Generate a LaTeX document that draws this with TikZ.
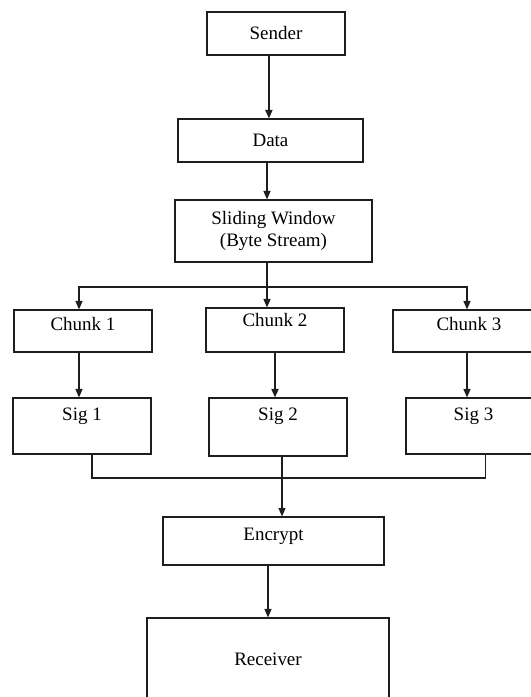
\documentclass[tikz,border=0pt]{standalone}
\usepackage{fontspec}
\setmainfont{Liberation Serif}
\usepackage{tikz}
\usetikzlibrary{arrows.meta,positioning,calc}
\definecolor{linecolor}{RGB}{30,30,30}

\begin{document}
\begin{tikzpicture}[x=0.025cm,y=-0.025cm,
  blk/.style={draw=linecolor,line width=0.8pt,fill=white,inner sep=0pt,
              font=\fontsize{13.5}{16}\selectfont,align=center},
  sigblk/.style={blk,text height=0.55cm,text depth=0.85cm,inner ysep=0pt},
  arr/.style={-{Triangle[length=6pt,width=5pt]},line width=0.8pt,linecolor},
  link/.style={line width=0.8pt,linecolor}
]
\useasboundingbox (0,0) rectangle (531,697);
\node[blk,minimum width=3.45cm,minimum height=1.075cm] (sender) at (276,33.5) {Sender};
\node[blk,minimum width=4.625cm,minimum height=1.075cm] (data) at (270.5,140.5) {Data};
\node[blk,minimum width=4.925cm,minimum height=1.55cm] (slide) at (273.5,231)
  {Sliding Window\\(Byte Stream)};
\node[blk,minimum width=3.45cm,text height=0.5cm,text depth=0.55cm] (chunk1) at (83,331) {Chunk 1};
\node[blk,minimum width=3.45cm,text height=0.47cm,text depth=0.63cm] (chunk2) at (275,330) {Chunk 2};
\node[blk,minimum width=3.8cm,text height=0.5cm,text depth=0.55cm] (chunk3) at (469,331) {Chunk 3};
\node[sigblk,minimum width=3.45cm] (sig1) at (82,426) {Sig 1};
\node[sigblk,minimum width=3.45cm,text depth=0.9cm] (sig2) at (278,427) {Sig 2};
\node[sigblk,minimum width=3.375cm] (sig3) at (473.5,426) {Sig 3};
\node[blk,minimum width=5.525cm,text height=0.575cm,text depth=0.625cm] (encrypt) at (273.5,541) {Encrypt};
\node[blk,minimum width=6.05cm,text height=1.175cm,text depth=1.925cm] (receiver) at (268,680) {Receiver};
\coordinate (split) at (267,287);
\coordinate (join) at (282,478);
\draw[arr,line width=1.2pt] ([xshift=-0.04cm]data.north |- sender.south) -- ([xshift=-0.04cm]data.north);
\draw[arr] (data.south -| split) -- (slide.north -| split);
\draw[link] (slide.south -| split) -- (split);
\draw[arr] (split) -| ([xshift=-0.1cm]chunk1.north);
\draw[arr] (split) -| ([xshift=-0.05cm]chunk3.north);
\draw[arr] (split) -- (split |- chunk2.north);
\draw[arr] ([xshift=-0.1cm]chunk1.south) -- ([xshift=-0.1cm]chunk1.south |- sig1.north);
\draw[arr,line width=1.1pt] (chunk2.south) -- (chunk2.south |- sig2.north);
\draw[arr] ([xshift=-0.05cm]chunk3.south) -- ([xshift=-0.05cm]chunk3.south |- sig3.north);
\draw[link] ([xshift=0.25cm]sig1.south) |- (join);
\draw[link] ([xshift=0.3cm]sig3.south) |- (join);
\draw[arr] ([xshift=0.1cm]sig2.south) -- ([xshift=0.1cm]sig2.south |- encrypt.north);
\draw[arr] (receiver.north |- encrypt.south) -- (receiver.north);
\end{tikzpicture}
\end{document}
